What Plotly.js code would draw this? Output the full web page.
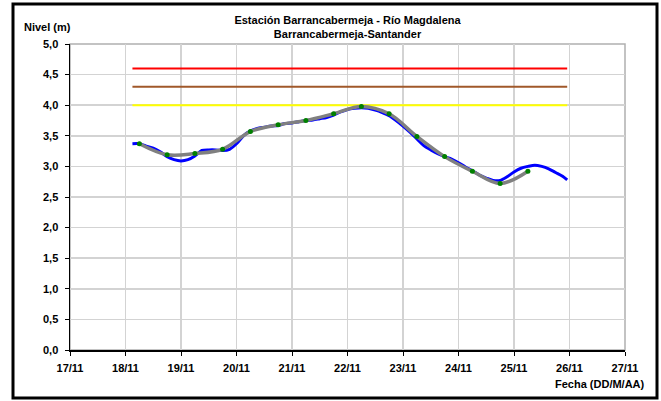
<!DOCTYPE html>
<html><head><meta charset="utf-8">
<script src="https://cdn.plot.ly/plotly-3.0.1.min.js"></script>
<style>html,body{margin:0;padding:0;background:#fff}#chart{width:661px;height:401px}</style>
</head><body><div id="chart"></div>
<script>
// Threshold levels (m)
const thresholdDates = ["2010-11-18 03:00", "2010-11-25 23:00"];
const levelRed = 4.6, levelBrown = 4.3, levelYellow = 4.0;

// Observed level (blue), every 3 hours
const obsDates = [
 "2010-11-18 03:00","2010-11-18 06:00","2010-11-18 09:00","2010-11-18 12:00","2010-11-18 15:00","2010-11-18 18:00","2010-11-18 21:00",
 "2010-11-19 00:00","2010-11-19 03:00","2010-11-19 06:00","2010-11-19 09:00","2010-11-19 12:00","2010-11-19 15:00","2010-11-19 18:00","2010-11-19 21:00",
 "2010-11-20 00:00","2010-11-20 03:00","2010-11-20 06:00","2010-11-20 09:00","2010-11-20 12:00","2010-11-20 15:00","2010-11-20 18:00","2010-11-20 21:00",
 "2010-11-21 00:00","2010-11-21 03:00","2010-11-21 06:00","2010-11-21 09:00","2010-11-21 12:00","2010-11-21 15:00","2010-11-21 18:00","2010-11-21 21:00",
 "2010-11-22 00:00","2010-11-22 03:00","2010-11-22 06:00","2010-11-22 09:00","2010-11-22 12:00","2010-11-22 15:00","2010-11-22 18:00","2010-11-22 21:00",
 "2010-11-23 00:00","2010-11-23 03:00","2010-11-23 06:00","2010-11-23 09:00","2010-11-23 12:00","2010-11-23 15:00","2010-11-23 18:00","2010-11-23 21:00",
 "2010-11-24 00:00","2010-11-24 03:00","2010-11-24 06:00","2010-11-24 09:00","2010-11-24 12:00","2010-11-24 15:00","2010-11-24 18:00","2010-11-24 21:00",
 "2010-11-25 00:00","2010-11-25 03:00","2010-11-25 06:00","2010-11-25 09:00","2010-11-25 12:00","2010-11-25 15:00","2010-11-25 18:00","2010-11-25 21:00","2010-11-25 23:00"
];
const obsLevels = [
 3.37,3.37,3.33,3.30,3.24,3.16,3.11,
 3.09,3.11,3.17,3.26,3.27,3.27,3.26,3.28,
 3.37,3.50,3.58,3.62,3.64,3.66,3.67,3.70,
 3.71,3.73,3.75,3.76,3.78,3.80,3.84,3.89,
 3.93,3.95,3.96,3.95,3.92,3.88,3.83,3.75,
 3.66,3.56,3.45,3.34,3.27,3.21,3.16,3.12,
 3.06,2.99,2.93,2.86,2.81,2.77,2.77,2.83,
 2.91,2.97,3.00,3.02,3.00,2.96,2.90,2.84,2.78
];

// Reported readings (grey line, green points), 06:00 and 18:00
const readDates = [
 "2010-11-18 06:00","2010-11-18 18:00","2010-11-19 06:00","2010-11-19 18:00","2010-11-20 06:00","2010-11-20 18:00",
 "2010-11-21 06:00","2010-11-21 18:00","2010-11-22 06:00","2010-11-22 18:00","2010-11-23 06:00","2010-11-23 18:00",
 "2010-11-24 06:00","2010-11-24 18:00","2010-11-25 06:00"
];
const readLevels = [3.37,3.19,3.21,3.28,3.57,3.68,3.75,3.86,3.98,3.86,3.49,3.16,2.92,2.72,2.92];

// Axis ticks
const xTickDates = ["2010-11-17","2010-11-18","2010-11-19","2010-11-20","2010-11-21","2010-11-22",
                    "2010-11-23","2010-11-24","2010-11-25","2010-11-26","2010-11-27"];
const xTickLabels = ["17/11","18/11","19/11","20/11","21/11","22/11","23/11","24/11","25/11","26/11","27/11"];
const yTickValues = [0,0.5,1,1.5,2,2.5,3,3.5,4,4.5,5];
const yTickLabels = ["0,0","0,5","1,0","1,5","2,0","2,5","3,0","3,5","4,0","4,5","5,0"];

const xRange = ["2010-11-17 00:00", "2010-11-27 00:00"];
const yRange = [0, 5];

const font = "Liberation Sans, Arial, sans-serif";
const tf = {family: font, size: 11, color:"#000"};
const b = s => "<b>" + s + "</b>";
const traces = [
 {x: thresholdDates, y: thresholdDates.map(()=>levelRed), mode:"lines", line:{color:"#ff0000", width:2}, hoverinfo:"skip"},
 {x: thresholdDates, y: thresholdDates.map(()=>levelBrown), mode:"lines", line:{color:"#a0582a", width:2}, hoverinfo:"skip"},
 {x: thresholdDates, y: thresholdDates.map(()=>levelYellow), mode:"lines", line:{color:"#ffff00", width:2}, hoverinfo:"skip"},
 {x: obsDates, y: obsLevels, mode:"lines", line:{color:"#0000ff", width:3, shape:"spline", smoothing:0.8}},
 {x: readDates, y: readLevels, mode:"lines+markers", line:{color:"#808080", width:3.5, shape:"spline", smoothing:1},
  marker:{color:"#008000", size:5}}
];

const layout = {
 width: 661, height: 401,
 margin: {l:70, r:36, t:44, b:51},
 paper_bgcolor:"#ffffff", plot_bgcolor:"#ffffff",
 showlegend:false,
 separators: ",.",
 font: tf,
 title: {text:"<b>Estación Barrancabermeja - Río Magdalena<br>Barrancabermeja-Santander</b>",
   font:tf, xref:"paper", x:0.5, xanchor:"center",
   yref:"container", y:1-24/401, yanchor:"middle"},
 xaxis: {type:"date", range:xRange, tickmode:"array", tickvals:xTickDates, ticktext:xTickLabels.map(b),
   showgrid:true, gridcolor:"#d3d3d3", gridwidth:1.5, zeroline:false,
   showline:true, linecolor:"#000", linewidth:1.5, ticks:"outside", ticklen:4, tickcolor:"#000",
   ticklabelstandoff:3, tickfont:tf},
 yaxis: {range:yRange, tickmode:"array", tickvals:yTickValues, ticktext:yTickLabels.map(b),
   showgrid:true, gridcolor:"#d3d3d3", gridwidth:1.5, zeroline:false,
   showline:true, linecolor:"#000", linewidth:1.5, ticks:"outside", ticklen:4, tickcolor:"#000",
   ticklabelstandoff:4, tickfont:tf},
 shapes: [
  {type:"rect", xref:"paper", yref:"paper", x0:0, x1:1, y0:0, y1:1, line:{color:"#b0b0b0", width:1.5}, layer:"below"},
  {type:"rect", xref:"paper", yref:"paper", x0:(13-70)/555, x1:(657-70)/555, y0:(350-398)/306, y1:(350-4)/306,
   line:{color:"#000", width:3}}
 ],
 annotations: [
  {text:"<b>Nivel (m)</b>", xref:"paper", yref:"paper", x:(22-70)/555, y:(350-27)/306, xanchor:"left", yanchor:"middle",
   showarrow:false, font:tf},
  {text:"<b>Fecha (DD/M/AA)</b>", xref:"paper", yref:"paper", x:(647-70)/555, y:(350-384)/306, xanchor:"right", yanchor:"middle",
   showarrow:false, font:tf}
 ]
};

Plotly.newPlot("chart", traces, layout, {displayModeBar:false, staticPlot:true});
</script></body></html>
